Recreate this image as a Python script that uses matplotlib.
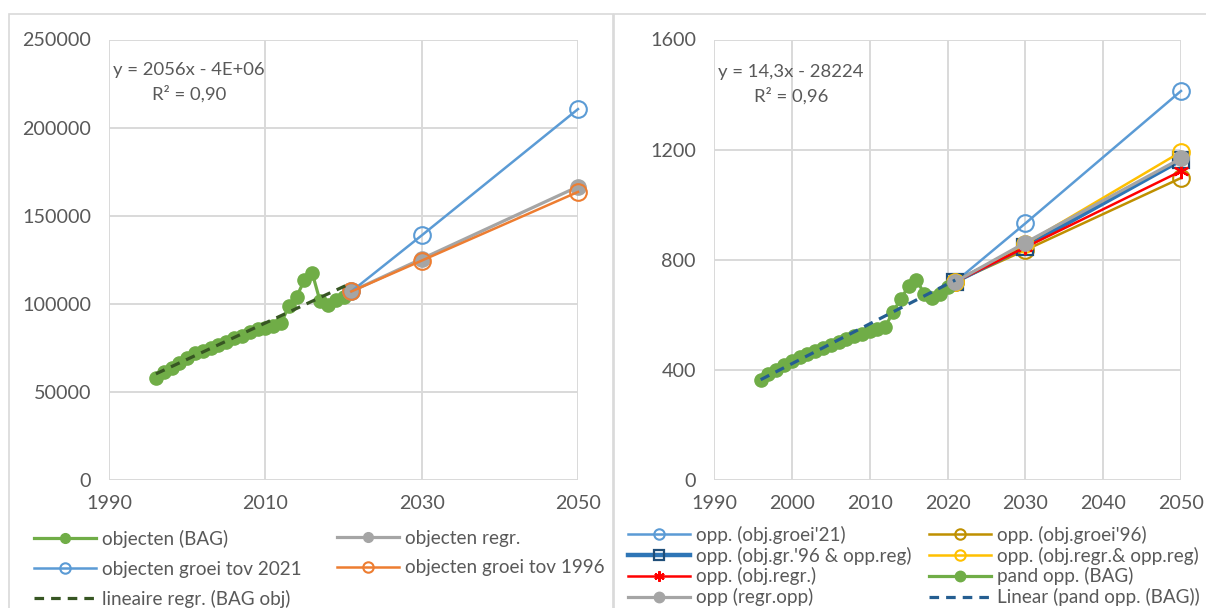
import numpy as np
import matplotlib
matplotlib.use("Agg")
import matplotlib.pyplot as plt
from matplotlib.patches import Rectangle

plt.rcParams['font.family'] = ['Lato', 'DejaVu Sans']

# ---- data ----
years_bag = list(range(1996, 2022))
obj_bag = [58000, 61500, 63500, 66500, 69500, 72000, 73000, 75000, 76500, 78500,
           80500, 82000, 84000, 85500, 86500, 87500, 89000, 98500, 104000, 113500,
           117500, 101500, 99500, 102000, 104000, 107000]
proj_years = [2021, 2030, 2050]
obj_regr = [107000, 125500, 166500]
obj_groei21 = [107000, 138800, 210500]
obj_groei96 = [107000, 124500, 163500]

opp_bag = [363, 385, 398, 416, 432, 447, 458, 468, 478, 489,
           500, 511, 522, 532, 541, 549, 556, 611, 657, 704,
           728, 677, 662, 674, 701, 720]
opp_groei21 = [720, 932, 1413]
opp_groei96 = [720, 835, 1097]
opp_gr96_reg = [720, 848, 1162]
opp_regr_reg = [720, 858, 1192]
opp_objregr = [720, 845, 1122]
opp_regr = [720, 862, 1168]

eq_left = "y = 2056x - 4E+06\nR² = 0,90"
eq_right = "y = 14,3x - 28224\nR² = 0,96"

W, H = 1206, 608
TXT = '#595959'
GRID = '#D9D9D9'
FS = 13.3

fig = plt.figure(figsize=(W / 100, H / 100), dpi=100)
fig.patch.set_facecolor('white')

def px(x0, y0, x1, y1):
    # pixel box (top-left origin) -> figure fraction rect
    return [x0 / W, (H - y1) / H, (x1 - x0) / W, (y1 - y0) / H]

# panel borders
for x0, x1 in [(8.5, 612.5), (614, 1230)]:
    fig.patches.append(Rectangle((x0 / W, (H - 640) / H), (x1 - x0) / W, (640 - 13.5) / H,
                                 transform=fig.transFigure, fill=False,
                                 edgecolor=GRID, lw=1.2))

def style(ax, xt, yt):
    ax.set_xticks(xt)
    ax.set_yticks(yt)
    ax.set_xlim(xt[0], xt[-1])
    ax.set_ylim(yt[0], yt[-1])
    ax.grid(True, color=GRID, lw=1.4)
    ax.set_axisbelow(True)
    for s in ax.spines.values():
        s.set_visible(False)
    ax.tick_params(length=0, colors=TXT, labelsize=14.2, pad=13)
    ax.tick_params(axis='x', pad=11)
    ax.patch.set_alpha(0)

# ---------------- left chart ----------------
ax1 = fig.add_axes(px(109, 39.5, 578, 480))
style(ax1, [1990, 2010, 2030, 2050], list(range(0, 250001, 50000)))

l_bag, = ax1.plot(years_bag, obj_bag, color='#70AD47', lw=2.3, marker='o', ms=9.5, zorder=3)
l_regr, = ax1.plot(proj_years, obj_regr, color='#A5A5A5', lw=2.3, marker='o', ms=11, zorder=4,
                   clip_on=False)
l_g21, = ax1.plot(proj_years, obj_groei21, color='#5B9BD5', lw=1.8, marker='o', ms=12,
                  mfc='none', mew=1.5, zorder=4, clip_on=False)
l_g96, = ax1.plot(proj_years, obj_groei96, color='#ED7D31', lw=1.8, marker='o', ms=12,
                  mfc='none', mew=1.5, zorder=5, clip_on=False)
c1 = np.polyfit(years_bag, obj_bag, 1)
yr = np.array([years_bag[0], years_bag[-1]])
l_lin, = ax1.plot(yr, np.polyval(c1, yr), color='#375623', lw=2.3, ls=(0, (3, 2.2)), zorder=6)

ax1.text(189 / W, (H - 82) / H, eq_left, transform=fig.transFigure, ha='center', va='center',
         multialignment='center', color=TXT, fontsize=FS, linespacing=1.5)

lkw = dict(frameon=False, borderpad=0, borderaxespad=0, handlelength=3.3, handletextpad=0.32,
           fontsize=13.6, labelcolor=TXT, loc='upper left')
fig.legend([l_bag, l_g21, l_lin], ['objecten (BAG)', 'objecten groei tov 2021',
                                   'lineaire regr. (BAG obj)'],
           bbox_to_anchor=(34 / W, (H - 530) / H), labelspacing=0.66, **lkw)
fig.legend([l_regr, l_g96], ['objecten regr.', 'objecten groei tov 1996'],
           bbox_to_anchor=(337 / W, (H - 530) / H), labelspacing=0.66, **lkw)
for lg in fig.legends:
    for h in lg.legend_handles:
        if h.get_marker() == 'o':
            h.set_markersize(7 if h.get_markerfacecolor() != 'none' else 7.5)

# ---------------- right chart ----------------
ax2 = fig.add_axes(px(714, 39.5, 1181, 480))
style(ax2, list(range(1990, 2051, 10)), list(range(0, 1601, 400)))

r_g21, = ax2.plot(proj_years, opp_groei21, color='#5B9BD5', lw=1.8, marker='o', ms=12,
                  mfc='none', mew=1.5, zorder=3, clip_on=False)
r_g96, = ax2.plot(proj_years, opp_groei96, color='#BF9000', lw=1.8, marker='o', ms=12,
                  mfc='none', mew=1.5, zorder=3, clip_on=False)
r_gr96, = ax2.plot(proj_years, opp_gr96_reg, color='#2E75B6', lw=3.2, marker='s', ms=11,
                   mfc='none', mec='#1F4E79', mew=1.6, zorder=3, clip_on=False)
r_rr, = ax2.plot(proj_years, opp_regr_reg, color='#FFC000', lw=1.8, marker='o', ms=12,
                 mfc='none', mew=1.5, zorder=3, clip_on=False)
r_or, = ax2.plot(proj_years, opp_objregr, color='#FF0000', lw=1.8, marker=(6, 2, 0), ms=11,
                 mew=1.6, zorder=4, clip_on=False)
r_bag, = ax2.plot(years_bag, opp_bag, color='#70AD47', lw=2.3, marker='o', ms=9.5, zorder=3)
r_regr, = ax2.plot(proj_years, opp_regr, color='#A5A5A5', lw=2.3, marker='o', ms=11, zorder=5,
                   clip_on=False)
c2 = np.polyfit(years_bag, opp_bag, 1)
r_lin, = ax2.plot(yr, np.polyval(c2, yr), color='#255E91', lw=2.3, ls=(0, (3, 2.2)), zorder=6)

ax2.text(791 / W, (H - 84) / H, eq_right, transform=fig.transFigure, ha='center', va='center',
         multialignment='center', color=TXT, fontsize=FS, linespacing=1.5)

fig.legend([r_g21, r_gr96, r_or, r_regr],
           ["opp. (obj.groei'21)", "opp. (obj.gr.'96 & opp.reg)", 'opp. (obj.regr.)', 'opp (regr.opp)'],
           bbox_to_anchor=(628 / W, (H - 526) / H), labelspacing=0.14, **lkw)
fig.legend([r_g96, r_rr, r_bag, r_lin],
           ["opp. (obj.groei'96)", 'opp. (obj.regr.& opp.reg)', 'pand opp. (BAG)',
            'Linear (pand opp. (BAG))'],
           bbox_to_anchor=(929 / W, (H - 526) / H), labelspacing=0.14, **lkw)
for lg in fig.legends[2:]:
    for h in lg.legend_handles:
        if h.get_marker() in ('o', 's') or h.get_marker() == (6, 2, 0):
            h.set_markersize(7.5)

fig.savefig('out.png', dpi=100, facecolor='white')
